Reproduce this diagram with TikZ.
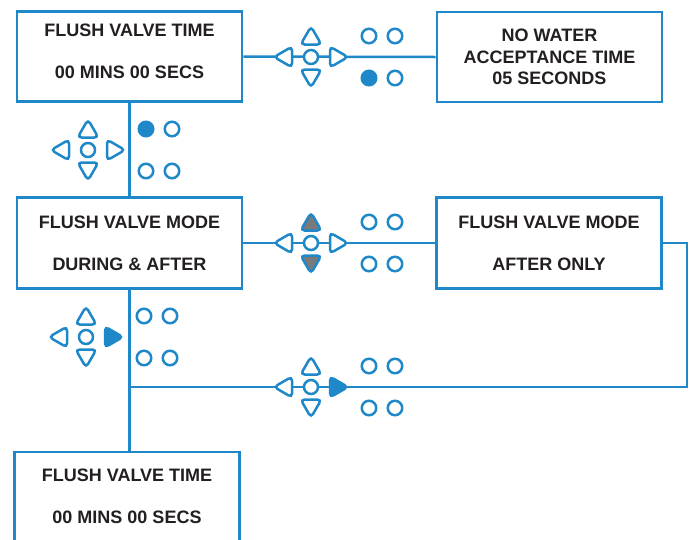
\documentclass[tikz,border=0pt]{standalone}
\usepackage{fontspec}
\setmainfont{Liberation Sans}
\usetikzlibrary{shapes.geometric}
\definecolor{keyblue}{RGB}{30,136,200}
\definecolor{keygrey}{RGB}{122,122,122}
\definecolor{ink}{RGB}{35,31,32}
\tikzset{%
	screen/.style = {draw=keyblue, line width=2.8pt, fill=white, minimum width=225pt, minimum height=89pt, align=center, text=ink, font=\bfseries\fontsize{18}{21.5}\selectfont},
	key/.style    = {draw=keyblue, line width=2.5pt, fill=white, inner sep=0pt},
	keyc/.style   = {key, circle, minimum size=14pt},
	keytri/.style = {key, regular polygon, regular polygon sides=3, minimum size=24pt, rounded corners=4pt},
	led/.style    = {key, circle, minimum size=14.5pt},
	lit/.style    = {fill=keyblue},
	greyed/.style = {fill=keygrey},
	link/.style   = {draw=keyblue, line width=2.5pt},
}
% keypad: name, x, y, up, down, right, upper led, lower led
\newcommand{\keypad}[8]{%
	\begin{scope}[shift={(#2,#3)}]
		\node[keyc] (#1c) at (0,0) {};
		\node[keytri,#4] (#1u) at (0,-18.5) {};
		\node[keytri,shape border rotate=180,#5] (#1d) at (0,18.5) {};
		\node[keytri,shape border rotate=90] (#1l) at (-25,0) {};
		\node[keytri,shape border rotate=-90,#6] (#1r) at (25,0) {};
		\node[led,#7] (#1a) at (58,-21) {};
		\node[led] (#1b) at (84,-21) {};
		\node[led,#8] (#1e) at (58,21) {};
		\node[led] (#1f) at (84,21) {};
	\end{scope}}
\begin{document}
\begin{tikzpicture}[x=1pt,y=-1pt]
	\useasboundingbox (0,0) rectangle (691,539);
	\clip (0,0) rectangle (691,539);
	
	% screens
	\node[screen,minimum height=90pt,text depth=10pt] (ftime) at (129.5,56.5) {FLUSH VALVE TIME\\[20.5pt]00 MINS 00 SECS};
	\node[screen,minimum height=90pt] (nowater) at (549.5,57) {NO WATER\\ACCEPTANCE TIME\\05 SECONDS};
	\node[screen,minimum height=91pt] (fmode) at (129.5,243) {FLUSH VALVE MODE\\[20.5pt]DURING \& AFTER};
	\node[screen,minimum height=91pt] (after) at (549,243) {FLUSH VALVE MODE\\[20.5pt]AFTER ONLY};
	\node[screen] (ftime2) at (127,496.5) {FLUSH VALVE TIME\\[20.5pt]00 MINS 00 SECS};
	
	% links
	\coordinate (loop) at (687,387);
	\draw[link] (ftime.east) -- (nowater.west);
	\draw[link] (ftime.south) -- (fmode.north);
	\draw[link] (fmode.east) -- (after.west);
	\draw[link] (after.east) -| (loop) -- (fmode.south |- loop);
	\draw[link] (fmode.south) -- (fmode.south |- ftime2.north);
	
	% keypads
	\keypad{ka}{311}{57}{}{}{}{}{lit}
	\keypad{kb}{88}{150}{}{}{}{lit}{}
	\keypad{kc}{311}{243}{greyed}{greyed}{}{}{}
	\keypad{kd}{86}{337}{}{}{lit}{}{}
	\keypad{ke}{311}{387}{}{}{lit}{}{}
\end{tikzpicture}
\end{document}
